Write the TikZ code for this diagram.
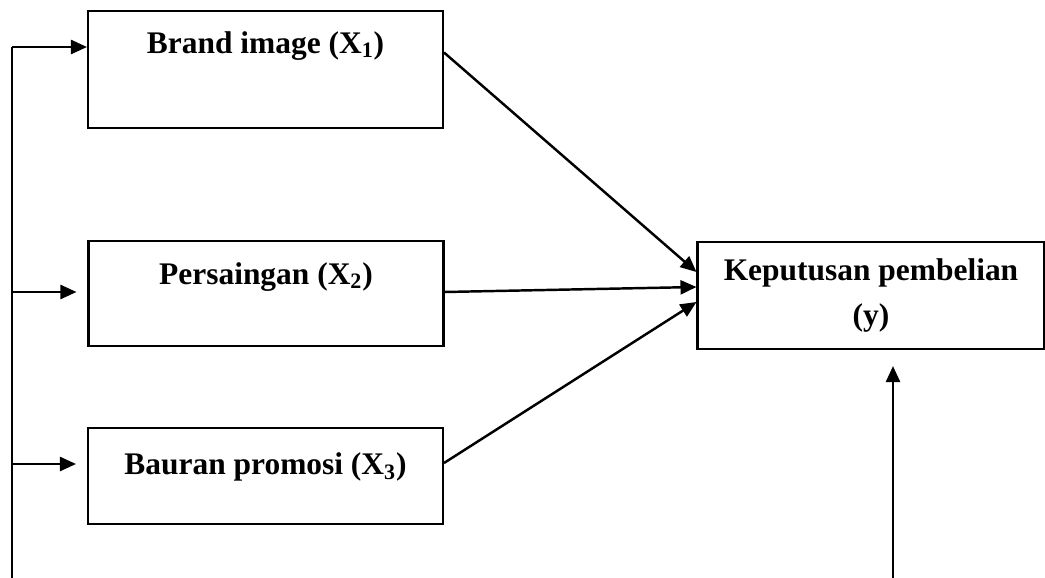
\documentclass[tikz,border=0pt]{standalone}
\usepackage{fontspec}
\setmainfont{Liberation Serif}
\usetikzlibrary{arrows.meta,calc}
\tikzset{
  varbox/.style={draw, line width=1.2pt, minimum width=7.1cm, minimum height=#1, inner sep=0pt},
  lbl/.style={font=\fontsize{17.9}{25.6}\selectfont\bfseries, align=center, inner sep=0pt},
  arr/.style={line width=1.4pt, -{Triangle[length=0.32cm,width=0.28cm]}},
  ln/.style={line width=1.4pt}
}
\begin{document}
\begin{tikzpicture}[x=0.02cm,y=-0.02cm]
\useasboundingbox (0,0) rectangle (1045,578);
% kotak variabel bebas
\node[varbox=2.34cm] (bi) at (265.5,69.5) {};
\node[varbox=2.10cm] (ps) at (266,293.5) {};
\node[varbox=1.92cm] (bp) at (265.5,476) {};
\node[lbl] at ([yshift=-0.72cm]bi.north) {Brand image (X\textsubscript{1})};
\node[lbl] at ([yshift=-0.74cm]ps.north) {Persaingan (X\textsubscript{2})};
\node[lbl] at ([yshift=-0.80cm]bp.north) {Bauran promosi (X\textsubscript{3})};
% variabel terikat
\node[varbox=2.14cm, minimum width=6.94cm, lbl, draw] (kp) at (871,295.5) {Keputusan pembelian\\(y)};
% garis kiri
\coordinate (t1) at (12,47);
\coordinate (t2) at (12,292);
\coordinate (t3) at (12,464);
\coordinate (tb) at (12,578);
\draw[ln] (tb) -- (t1);
\draw[arr] (t1) -- (t1 -| bi.west);
\draw[arr] (t2) -- ([xshift=-0.22cm]t2 -| ps.west);
\draw[arr] (t3) -- ([xshift=-0.22cm]t3 -| bp.west);
% panah ke y
\draw[arr] ([yshift=0.34cm]bi.east) -- ([yshift=0.47cm]kp.west);
\draw[arr] ([yshift=0.03cm]ps.east) -- ([yshift=0.17cm]kp.west);
\draw[arr] ([yshift=0.26cm]bp.east) -- ([yshift=-0.13cm]kp.west);
\coordinate (yb) at (893,578);
\draw[arr] (yb) -- ([yshift=-0.32cm]kp.south -| yb);
\end{tikzpicture}
\end{document}
